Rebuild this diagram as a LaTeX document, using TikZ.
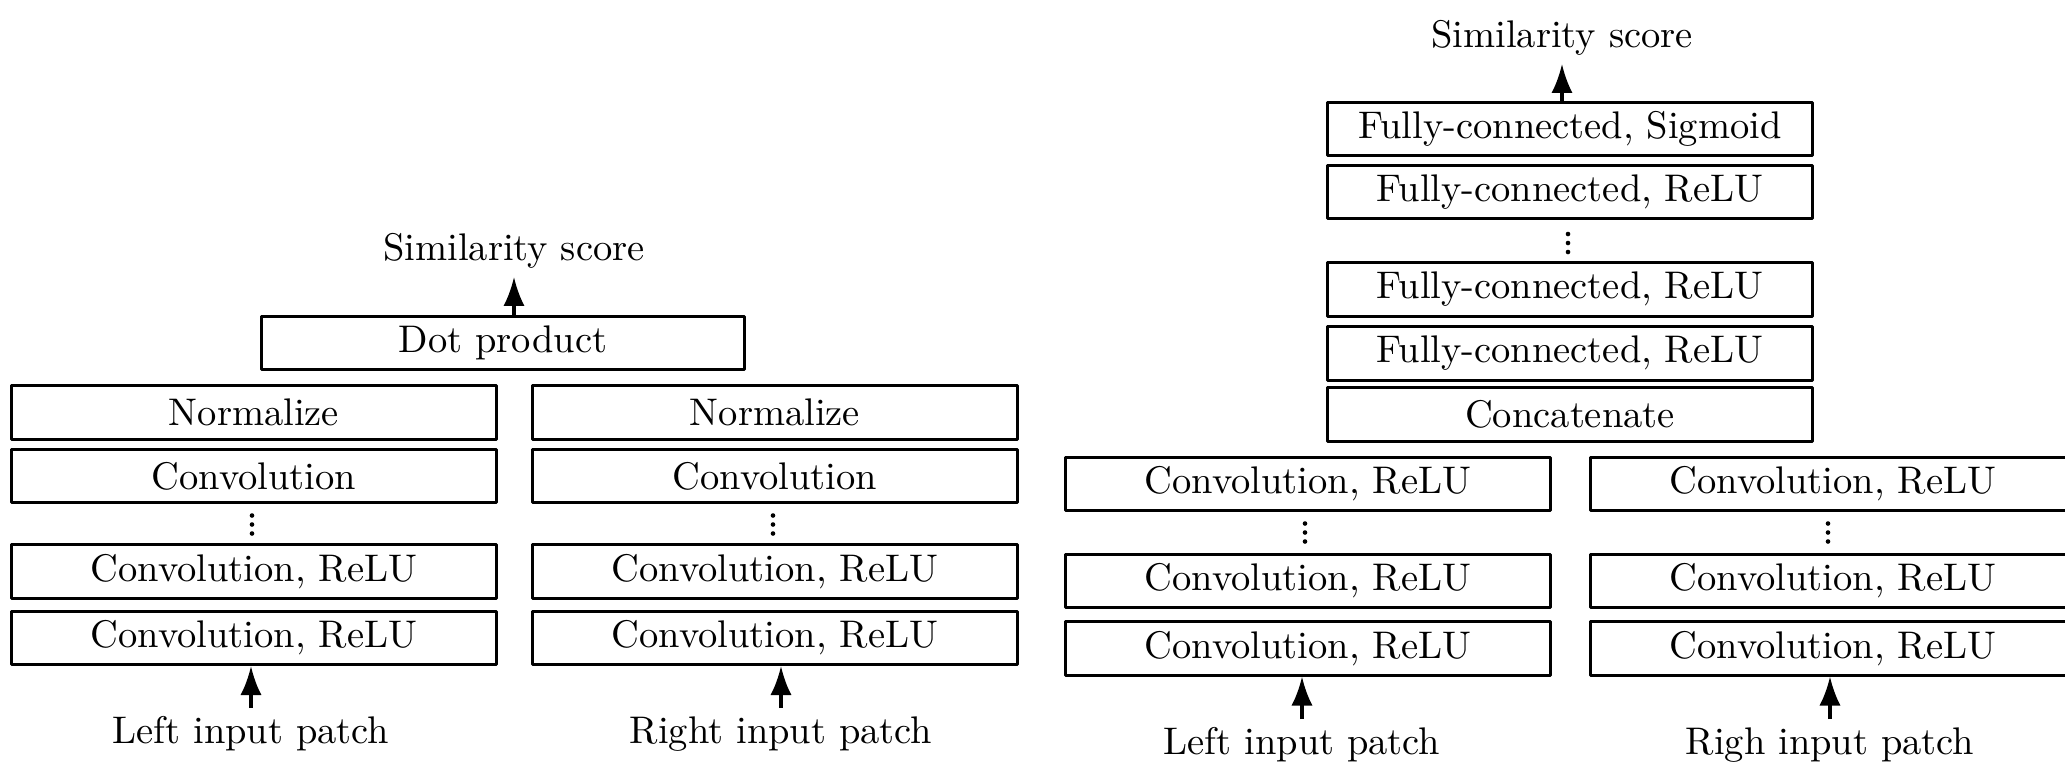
\documentclass[tikz,border=0pt]{standalone}
\usepackage{tikz}
\usetikzlibrary{arrows.meta,positioning}

\begin{document}
\begin{tikzpicture}[x=0.2597pt, y=-0.2597pt, line join=round, >={Latex[length=7.5pt,width=5.5pt]},
    lyr/.style={draw, line width=0.8pt, minimum width=126pt, minimum height=13.8pt, inner sep=0pt},
    txt/.style={inner sep=2pt},
    flow/.style={->, line width=0.8pt}]
    \useasboundingbox (0,0) rectangle (2065,762);
    % ---- dot product network (left)
    \node[txt] (scoreA) at (514,251) {Similarity score};
    \node[lyr, minimum width=125.5pt] (dotp) at (503,343) {Dot product};
    \node[lyr] (normL) at (254,412.5) {Normalize};
    \node[lyr] (normR) at (775,412.5) {Normalize};
    \node[lyr] (convL) at (254,476) {Convolution};
    \node[lyr] (convR) at (775,476) {Convolution};
    \node[lyr] (crL2) at (254,571.5) {Convolution, ReLU};
    \node[lyr] (crR2) at (775,571.5) {Convolution, ReLU};
    \node[lyr] (crL1) at (254,638) {Convolution, ReLU};
    \node[lyr] (crR1) at (775,638) {Convolution, ReLU};
    \node[txt] (inL) at (251,734) {Left input patch};
    \node[txt] (inR) at (781,734) {Right input patch};
    \foreach \x in {252,773} {
        \foreach \d in {-9,0,9} \fill (\x,524.5+\d) circle (0.6pt);
    }
    \draw[flow] (dotp.north -| scoreA.south) -- (scoreA.south);
    \draw[flow] (inL.north) -- (inL.north |- crL1.south);
    \draw[flow] (inR.north) -- (inR.north |- crR1.south);
    % ---- fully-connected network (right)
    \node[txt] (scoreB) at (1562,38) {Similarity score};
    \node[lyr] (fcS) at (1570,129) {Fully-connected, Sigmoid};
    \node[lyr] (fc3) at (1570,192) {Fully-connected, ReLU};
    \node[lyr] (fc2) at (1570,289.5) {Fully-connected, ReLU};
    \node[lyr] (fc1) at (1570,353.5) {Fully-connected, ReLU};
    \node[lyr] (cat) at (1570,414.5) {Concatenate};
    \node[lyr] (ccL3) at (1308,484) {Convolution, ReLU};
    \node[lyr] (ccR3) at (1833,484) {Convolution, ReLU};
    \node[lyr] (ccL2) at (1308,581) {Convolution, ReLU};
    \node[lyr] (ccR2) at (1833,581) {Convolution, ReLU};
    \node[lyr] (ccL1) at (1308,648.5) {Convolution, ReLU};
    \node[lyr] (ccR1) at (1833,648.5) {Convolution, ReLU};
    \node[txt] (inL2) at (1302,745) {Left input patch};
    \node[txt] (inR2) at (1830,745) {Righ input patch};
    \foreach \d in {-9,0,9} \fill (1568,243+\d) circle (0.6pt);
    \foreach \x in {1305,1828} {
        \foreach \d in {-9,0,9} \fill (\x,532.5+\d) circle (0.6pt);
    }
    \draw[flow] (fcS.north -| scoreB.south) -- (scoreB.south);
    \draw[flow] (inL2.north) -- (inL2.north |- ccL1.south);
    \draw[flow] (inR2.north) -- (inR2.north |- ccR1.south);
\end{tikzpicture}
\end{document}
